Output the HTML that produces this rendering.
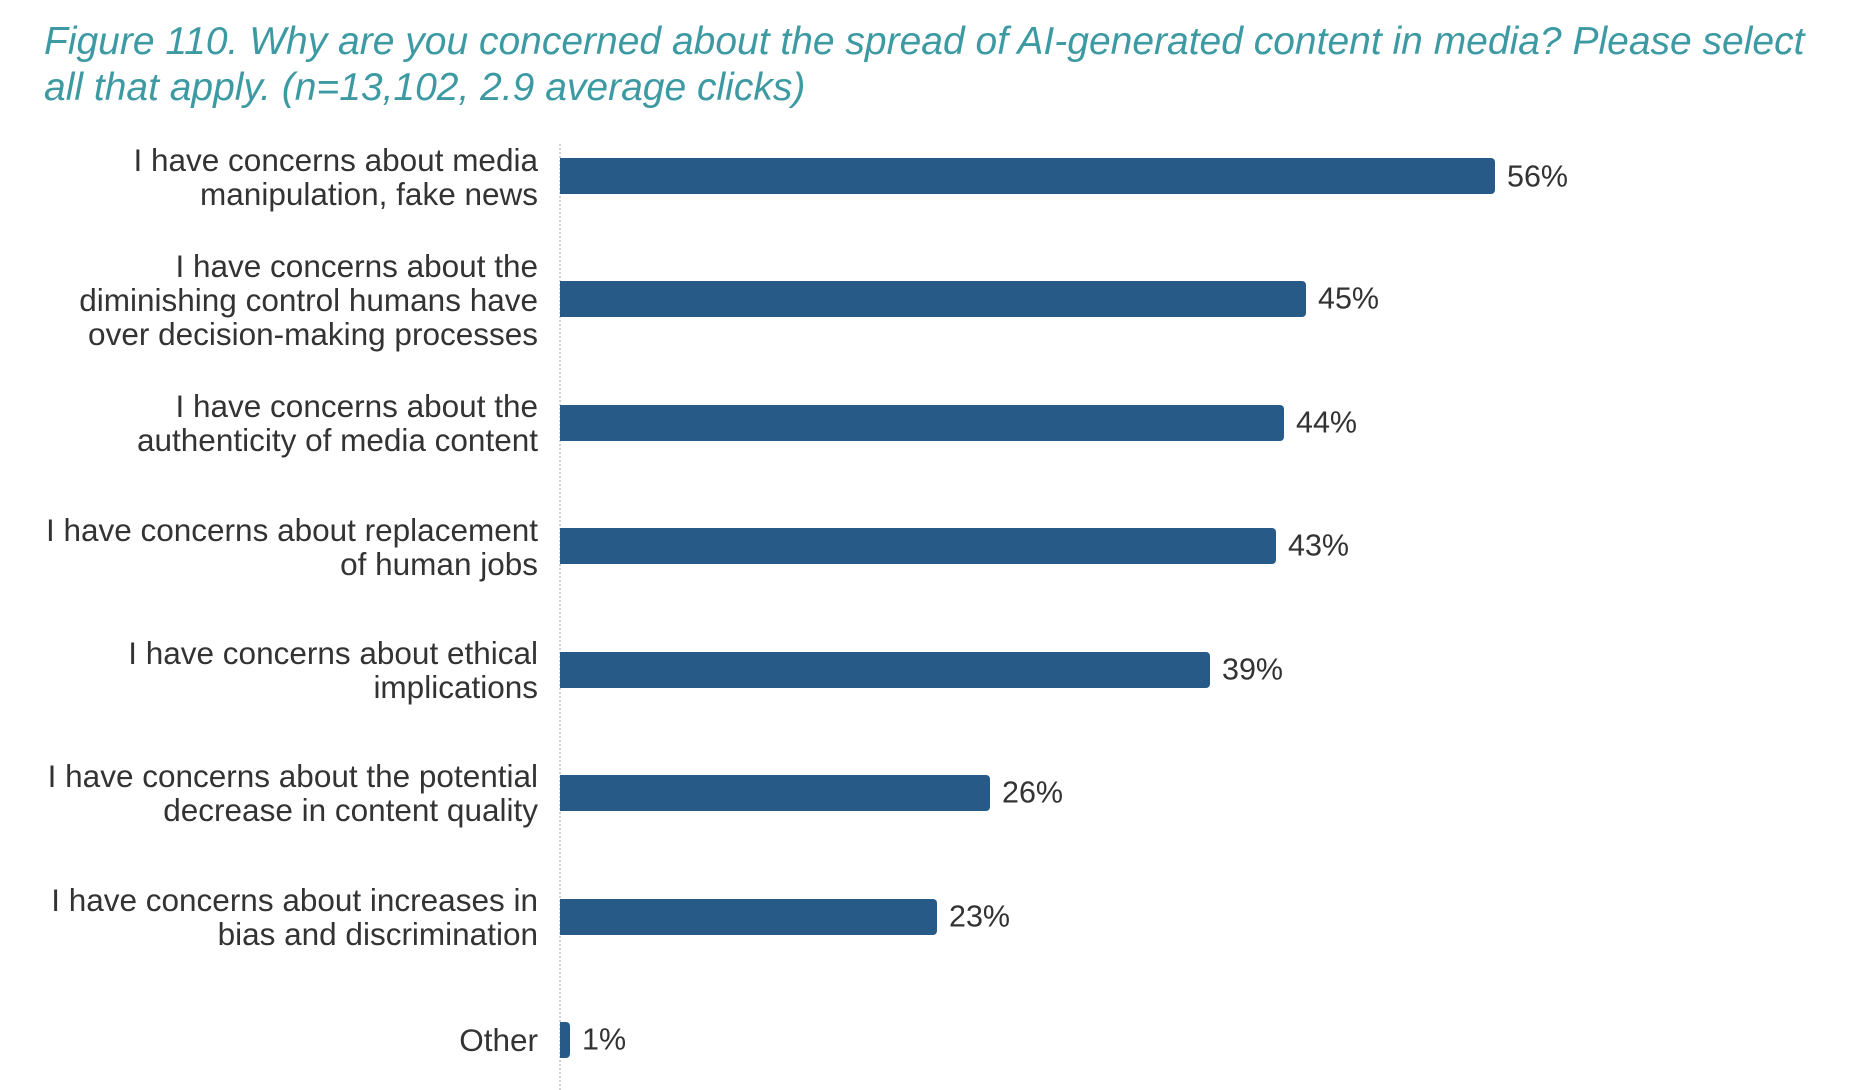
<!DOCTYPE html>
<html><head><meta charset="utf-8"><style>
body{margin:0;width:1872px;height:1090px;background:#fff;position:relative;overflow:hidden;font-family:"Liberation Sans",Arial,sans-serif}
.t{position:absolute;left:44px;font-style:italic;color:#3d9aa3;font-size:39px;white-space:nowrap}
.l{position:absolute;right:1334px;text-align:right;color:#333;font-size:31.5px;line-height:34px;white-space:nowrap;transform:translateY(-50%)}
.b{position:absolute;left:560px;height:36px;background:#285a87;border-radius:0 4px 4px 0;transform:translateY(-50%)}
.v{position:absolute;color:#333;font-size:30.5px;transform:translateY(-50%);white-space:nowrap}
.ax{position:absolute;left:559px;top:144px;height:946px;border-left:2px dotted #d0d0d0}
</style></head><body>
<div class="t" style="top:20px">Figure 110. Why are you concerned about the spread of AI-generated content in media? Please select</div>
<div class="t" style="top:66px">all that apply. (n=13,102, 2.9 average clicks)</div>
<div class="ax"></div>

<div class="l" style="top:177px">I have concerns about media<br>manipulation, fake news</div>
<div class="b" style="top:176px;width:935px"></div><div class="v" style="top:177px;left:1507px">56%</div>

<div class="l" style="top:300px">I have concerns about the<br>diminishing control humans have<br>over decision-making processes</div>
<div class="b" style="top:299px;width:746px"></div><div class="v" style="top:299px;left:1318px">45%</div>

<div class="l" style="top:423px">I have concerns about the<br>authenticity of media content</div>
<div class="b" style="top:423px;width:724px"></div><div class="v" style="top:423px;left:1296px">44%</div>

<div class="l" style="top:547px">I have concerns about replacement<br>of human jobs</div>
<div class="b" style="top:546px;width:716px"></div><div class="v" style="top:546px;left:1288px">43%</div>

<div class="l" style="top:670px">I have concerns about ethical<br>implications</div>
<div class="b" style="top:670px;width:650px"></div><div class="v" style="top:670px;left:1222px">39%</div>

<div class="l" style="top:793px">I have concerns about the potential<br>decrease in content quality</div>
<div class="b" style="top:793px;width:430px"></div><div class="v" style="top:793px;left:1002px">26%</div>

<div class="l" style="top:917px">I have concerns about increases in<br>bias and discrimination</div>
<div class="b" style="top:917px;width:377px"></div><div class="v" style="top:917px;left:949px">23%</div>

<div class="l" style="top:1040px">Other</div>
<div class="b" style="top:1040px;width:10px"></div><div class="v" style="top:1040px;left:582px">1%</div>
</body></html>
